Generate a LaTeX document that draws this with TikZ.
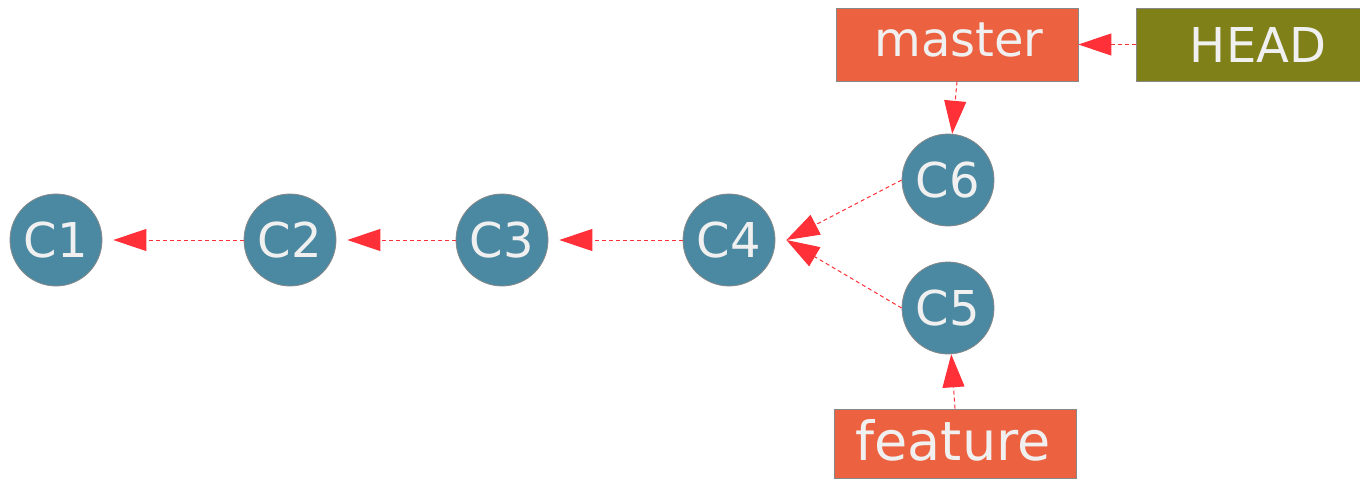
\documentclass[tikz,border=0pt]{standalone}
\usepackage{fontspec}
\setmainfont{DejaVu Sans}
\usetikzlibrary{arrows.meta,calc}
\definecolor{commitfill}{HTML}{4A89A1}
\definecolor{branchfill}{HTML}{EC6240}
\definecolor{headfill}{HTML}{808019}
\definecolor{txt}{HTML}{F0F0F0}
\definecolor{edge}{HTML}{888888}
\definecolor{arr}{HTML}{FF3038}
\tikzset{
  commit/.style={circle,fill=commitfill,draw=edge,line width=0.8pt,minimum size=92pt,inner sep=0pt,text=txt,font=\fontsize{48}{48}\selectfont},
  branch/.style={rectangle,fill=branchfill,draw=edge,line width=0.8pt,inner sep=0pt,text=txt},
  headbox/.style={rectangle,fill=headfill,draw=edge,line width=0.8pt,inner sep=0pt,text=txt},
  link/.style={draw=arr,line width=1pt,dash pattern=on 4pt off 3pt,-{Triangle[length=33pt,width=22pt,fill=arr]}},
}
\begin{document}
\begin{tikzpicture}[x=1pt,y=-1pt]
\useasboundingbox (0,0) rectangle (1360,479);
\node[commit] (C1) at (56,240) {C1};
\node[commit] (C2) at (290,240) {C2};
\node[commit] (C3) at (502,240) {C3};
\node[commit] (C4) at (729,240) {C4};
\node[commit] (C6) at (948,180) {C6};
\node[commit] (C5) at (948,308) {C5};
\coordinate (C4tip) at ($(C4.east)+(11,0)$);
\node[branch,minimum width=242pt,minimum height=73pt] (master) at (957,44.5) {};
\node[text=txt,font=\fontsize{48}{48}\selectfont] (mastertxt) at (959,40) {master};
\node[headbox,minimum width=224pt,minimum height=73pt] (head) at (1248,44.5) {};
\node[text=txt,font=\fontsize{48}{48}\selectfont] (headtxt) at (1258,45) {HEAD};
\node[branch,minimum width=242pt,minimum height=69pt] (feature) at (955,443.5) {};
\node[text=txt,font=\fontsize{54}{54}\selectfont] (featuretxt) at (953,440) {feature};
\draw[link,shorten >=11pt] (C2) -- (C1);
\draw[link,shorten >=11pt] (C3) -- (C2);
\draw[link,shorten >=11pt] (C4) -- (C3);
\draw[link] (C6.west) -- (C4tip);
\draw[link] (C5.west) -- (C4tip);
\draw[link] (master.south) -- (C6);
\draw[link] (head.west) -- (master.east);
\draw[link] (feature.north) -- (C5);
\end{tikzpicture}
\end{document}
